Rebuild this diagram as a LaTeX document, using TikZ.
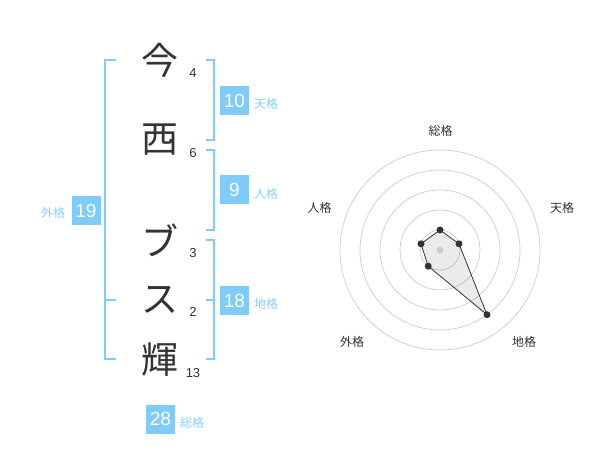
\documentclass[tikz,border=0pt]{standalone}
\usepackage{fontspec}
\setmainfont{Liberation Sans}
\newfontfamily\jp{Noto Sans CJK JP}
\definecolor{bl}{HTML}{80CBF7}
\definecolor{lbl}{HTML}{8CCFF5}
\definecolor{ink}{HTML}{333333}
\definecolor{ring}{HTML}{CCCCCC}
\begin{document}
\begin{tikzpicture}[x=1pt,y=-1pt,
  kanji/.style={inner sep=0pt,font=\jp\fontsize{37}{37}\selectfont,text=ink},
  strokes/.style={inner sep=0pt,font=\fontsize{13}{13}\selectfont,text=ink},
  valbox/.style={fill=bl,text=white,minimum width=29pt,minimum height=29pt,inner sep=0pt,font=\fontsize{19}{19}\selectfont},
  kaku/.style={inner sep=0pt,text=lbl,font=\jp\fontsize{12}{12}\selectfont},
  br/.style={draw=bl,line width=2pt},
  rlabel/.style={inner sep=0pt,text=ink,font=\jp\fontsize{12}{12}\selectfont},
  ringline/.style={draw=ring,line width=0.7pt},
  dot/.style={circle,fill=ink,inner sep=0pt,minimum size=7pt}]
\useasboundingbox (0,0) rectangle (600,470);
\fill[white] (0,0) rectangle (600,470);

% name characters
\node[kanji] (c1) at (160,60) {今};
\node[kanji] (c2) at (160,140) {西};
\node[kanji] (c3) at (160,240) {ブ};
\node[kanji] (c4) at (160,300) {ス};
\node[kanji] (c5) at (160,360) {輝};
\node[strokes] (s1) at (193,73) {4};
\node[strokes] (s2) at (193,153) {6};
\node[strokes] (s3) at (193,253) {3};
\node[strokes] (s4) at (193,312) {2};
\node[strokes] (s5) at (193,373) {13};

% brackets
\draw[br] (116,60) -- (105,60) -- (105,359) -- (116,359);
\draw[br] (105,300) -- (116,300);
\draw[br] (206,60) -- (214,60) -- (214,140) -- (206,140);
\draw[br] (206,150) -- (214,150) -- (214,230) -- (206,230);
\draw[br] (206,240) -- (214,240) -- (214,359) -- (206,359);
\draw[br] (214,300) -- (206,300);

% values
\node[valbox] (v1) at (234.5,100.5) {10};
\node[kaku] (k1) at (266,104) {天格};
\node[valbox] (v2) at (234.5,190) {9};
\node[kaku] (k2) at (266,194) {人格};
\node[valbox] (v3) at (234.5,300.5) {18};
\node[kaku] (k3) at (266,304) {地格};
\node[valbox] (v4) at (86,210.5) {19};
\node[kaku] (k4) at (53,213) {外格};
\node[valbox] (v5) at (160.5,419) {28};
\node[kaku] (k5) at (192,423) {総格};

% radar chart
\coordinate (rc) at (440,250);
\foreach \r in {20,40,60,80,100} \draw[ringline] (rc) circle[radius=\r];
\coordinate (p1) at (440,230);
\coordinate (p2) at (459.0,243.8);
\coordinate (p3) at (487.0,314.7);
\coordinate (p4) at (428.2,266.2);
\coordinate (p5) at (421.0,243.8);
\fill[black,opacity=0.08] (p1) -- (p2) -- (p3) -- (p4) -- (p5) -- cycle;
\fill[ring] (rc) circle[radius=3.5];
\draw[ink,line width=0.8pt] (p1) -- (p2) -- (p3) -- (p4) -- (p5) -- cycle;
\foreach \p in {p1,p2,p3,p4,p5} \node[dot] at (\p) {};
\node[rlabel] (r1) at (440.5,131) {総格};
\node[rlabel] (r2) at (562,208) {天格};
\node[rlabel] (r3) at (524,342) {地格};
\node[rlabel] (r4) at (352,342) {外格};
\node[rlabel] (r5) at (319.5,208) {人格};
\end{tikzpicture}
\end{document}
